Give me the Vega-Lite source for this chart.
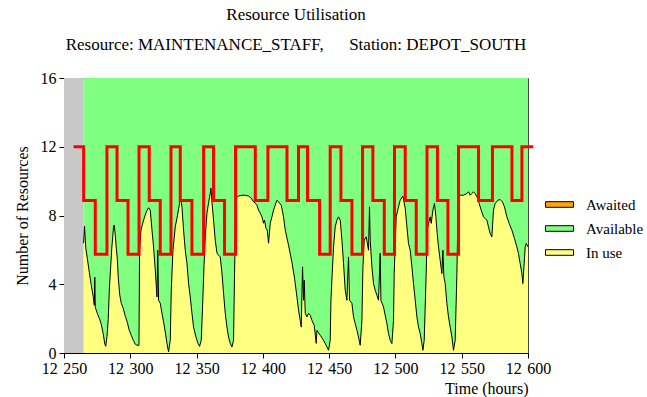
{
  "$schema": "https://vega.github.io/schema/vega-lite/v6.json",
  "autosize": "none",
  "width": 464,
  "height": 275,
  "padding": {"left": 64, "top": 78, "right": 119, "bottom": 44},
  "background": "white",
  "config": {
    "view": {"stroke": "#444", "strokeWidth": 1},
    "font": "Liberation Serif"
  },
  "title": {
    "text": "Resource Utilisation",
    "subtitle": "Resource: MAINTENANCE_STAFF,\u00a0\u00a0\u00a0\u00a0\u00a0\u00a0Station: DEPOT_SOUTH",
    "font": "Liberation Serif", "fontSize": 17, "fontWeight": "normal", "color": "black",
    "subtitleFont": "Liberation Serif", "subtitleFontSize": 17, "subtitleColor": "black",
    "subtitlePadding": 13, "offset": 16, "anchor": "middle"
  },
  "datasets": {
    "bands": [
      {"start": 12250, "end": 12264.8, "kind": "warmup"},
      {"start": 12264.8, "end": 12600, "kind": "Available"}
    ],
    "inuse": [
      {"t": 12264.78, "v": 6.39}, {"t": 12265.46, "v": 7.38}, {"t": 12266.44, "v": 6.10}, {"t": 12267.57, "v": 5.52},
      {"t": 12269.08, "v": 4.70}, {"t": 12270.59, "v": 3.94}, {"t": 12272.10, "v": 3.24}, {"t": 12272.85, "v": 2.78},
      {"t": 12273.23, "v": 4.41}, {"t": 12273.60, "v": 2.66}, {"t": 12275.11, "v": 2.31}, {"t": 12276.62, "v": 2.02},
      {"t": 12278.13, "v": 1.67}, {"t": 12279.64, "v": 1.09}, {"t": 12280.77, "v": 0.51}, {"t": 12281.52, "v": 0.39},
      {"t": 12282.43, "v": 0.97}, {"t": 12283.41, "v": 2.02}, {"t": 12284.16, "v": 3.65}, {"t": 12285.29, "v": 5.11},
      {"t": 12286.05, "v": 6.10}, {"t": 12286.80, "v": 6.80}, {"t": 12287.40, "v": 7.38}, {"t": 12287.93, "v": 7.44},
      {"t": 12288.69, "v": 6.85}, {"t": 12289.44, "v": 6.10}, {"t": 12290.19, "v": 5.52}, {"t": 12290.95, "v": 4.35},
      {"t": 12292.08, "v": 3.36}, {"t": 12293.21, "v": 2.89}, {"t": 12294.72, "v": 2.60}, {"t": 12296.23, "v": 2.14},
      {"t": 12297.74, "v": 1.79}, {"t": 12299.24, "v": 1.32}, {"t": 12300.75, "v": 1.03}, {"t": 12302.26, "v": 0.74},
      {"t": 12303.77, "v": 0.51}, {"t": 12305.05, "v": 0.45},
      {"t": 12306.56, "v": 0.45}, {"t": 12307.01, "v": 5.98}, {"t": 12308.07, "v": 7.15}, {"t": 12310.03, "v": 7.73},
      {"t": 12312.06, "v": 8.21}, {"t": 12313.80, "v": 8.45}, {"t": 12315.08, "v": 8.31}, {"t": 12316.36, "v": 7.15},
      {"t": 12317.57, "v": 6.17}, {"t": 12318.85, "v": 4.82}, {"t": 12320.13, "v": 3.26}, {"t": 12320.73, "v": 5.98},
      {"t": 12321.34, "v": 3.07}, {"t": 12322.62, "v": 2.89}, {"t": 12323.90, "v": 2.31}, {"t": 12325.11, "v": 1.81},
      {"t": 12326.39, "v": 1.22}, {"t": 12327.67, "v": 0.56}, {"t": 12328.88, "v": 0.06}, {"t": 12330.16, "v": 0.74},
      {"t": 12330.92, "v": 3.65}, {"t": 12332.20, "v": 5.98}, {"t": 12333.93, "v": 7.34}, {"t": 12335.67, "v": 8.02},
      {"t": 12337.17, "v": 8.72}, {"t": 12337.70, "v": 9.18}, {"t": 12338.98, "v": 8.50}, {"t": 12340.19, "v": 7.15},
      {"t": 12341.47, "v": 5.98}, {"t": 12342.75, "v": 5.22}, {"t": 12343.96, "v": 4.06}, {"t": 12345.24, "v": 3.26},
      {"t": 12346.52, "v": 2.31}, {"t": 12347.73, "v": 1.51}, {"t": 12349.54, "v": 0.93}, {"t": 12351.05, "v": 0.56},
      {"t": 12352.26, "v": 0.39}, {"t": 12353.54, "v": 0.74},
      {"t": 12354.52, "v": 2.68}, {"t": 12355.57, "v": 5.01}, {"t": 12356.55, "v": 6.76}, {"t": 12357.84, "v": 8.14},
      {"t": 12359.04, "v": 8.72}, {"t": 12360.32, "v": 9.30}, {"t": 12360.85, "v": 9.59}, {"t": 12361.61, "v": 8.79},
      {"t": 12362.81, "v": 7.73}, {"t": 12364.10, "v": 6.56}, {"t": 12365.38, "v": 5.81}, {"t": 12366.58, "v": 5.69},
      {"t": 12367.87, "v": 5.59}, {"t": 12369.15, "v": 4.64}, {"t": 12370.35, "v": 3.48}, {"t": 12371.64, "v": 2.31},
      {"t": 12372.92, "v": 1.51}, {"t": 12374.13, "v": 0.93}, {"t": 12375.41, "v": 0.56}, {"t": 12376.69, "v": 0.35},
      {"t": 12377.90, "v": 0.74},
      {"t": 12378.65, "v": 4.64}, {"t": 12379.71, "v": 9.01}, {"t": 12381.67, "v": 9.13}, {"t": 12384.23, "v": 9.18},
      {"t": 12386.72, "v": 9.18}, {"t": 12389.21, "v": 9.13}, {"t": 12391.24, "v": 9.01}, {"t": 12392.98, "v": 8.79},
      {"t": 12394.26, "v": 8.72}, {"t": 12395.54, "v": 8.60}, {"t": 12396.75, "v": 8.31}, {"t": 12398.03, "v": 8.14},
      {"t": 12399.31, "v": 7.92}, {"t": 12400.52, "v": 7.55}, {"t": 12401.27, "v": 7.73}, {"t": 12402.33, "v": 7.26},
      {"t": 12403.31, "v": 7.15}, {"t": 12404.29, "v": 6.39}, {"t": 12405.57, "v": 7.55}, {"t": 12406.85, "v": 7.92},
      {"t": 12408.06, "v": 8.31}, {"t": 12410.62, "v": 8.89}, {"t": 12411.83, "v": 8.79}, {"t": 12413.87, "v": 8.60},
      {"t": 12415.60, "v": 7.92}, {"t": 12416.88, "v": 7.15}, {"t": 12419.37, "v": 6.27}, {"t": 12421.94, "v": 5.28},
      {"t": 12423.90, "v": 4.35}, {"t": 12425.71, "v": 3.26}, {"t": 12426.91, "v": 2.49}, {"t": 12428.19, "v": 1.90},
      {"t": 12428.95, "v": 1.51}, {"t": 12429.93, "v": 5.01}, {"t": 12430.68, "v": 3.07}, {"t": 12431.21, "v": 4.23},
      {"t": 12431.97, "v": 2.31}, {"t": 12433.25, "v": 2.10}, {"t": 12434.45, "v": 2.31}, {"t": 12435.74, "v": 2.20},
      {"t": 12437.02, "v": 1.90}, {"t": 12438.75, "v": 1.61}, {"t": 12440.26, "v": 0.56}, {"t": 12440.79, "v": 1.32},
      {"t": 12443.28, "v": 1.03}, {"t": 12445.77, "v": 0.74}, {"t": 12448.33, "v": 0.35}, {"t": 12449.54, "v": 0.16},
      {"t": 12450.82, "v": 0.74},
      {"t": 12451.35, "v": 3.07}, {"t": 12452.33, "v": 4.64}, {"t": 12453.31, "v": 6.17}, {"t": 12454.59, "v": 7.34},
      {"t": 12455.87, "v": 7.73}, {"t": 12457.08, "v": 7.92}, {"t": 12458.36, "v": 7.73}, {"t": 12459.64, "v": 6.56},
      {"t": 12460.85, "v": 5.22}, {"t": 12462.13, "v": 3.65}, {"t": 12463.41, "v": 3.07}, {"t": 12464.62, "v": 5.59},
      {"t": 12465.37, "v": 3.07}, {"t": 12467.18, "v": 2.89}, {"t": 12468.39, "v": 2.10}, {"t": 12469.67, "v": 1.71},
      {"t": 12470.95, "v": 1.32}, {"t": 12472.16, "v": 0.93}, {"t": 12473.44, "v": 0.45}, {"t": 12474.72, "v": 1.90},
      {"t": 12475.48, "v": 5.01}, {"t": 12476.46, "v": 6.56}, {"t": 12477.96, "v": 6.76}, {"t": 12479.70, "v": 5.98},
      {"t": 12480.45, "v": 8.50}, {"t": 12480.98, "v": 6.56}, {"t": 12482.26, "v": 5.01}, {"t": 12483.47, "v": 4.04},
      {"t": 12484.75, "v": 3.65}, {"t": 12486.03, "v": 3.36}, {"t": 12487.24, "v": 3.07}, {"t": 12488.52, "v": 5.81},
      {"t": 12489.05, "v": 3.07}, {"t": 12491.01, "v": 2.68}, {"t": 12493.57, "v": 1.71}, {"t": 12494.78, "v": 1.13},
      {"t": 12496.06, "v": 0.74}, {"t": 12497.34, "v": 0.55}, {"t": 12498.55, "v": 1.90},
      {"t": 12499.08, "v": 4.62}, {"t": 12500.59, "v": 7.92}, {"t": 12502.32, "v": 8.50}, {"t": 12503.61, "v": 8.89},
      {"t": 12505.64, "v": 9.13}, {"t": 12507.37, "v": 8.43}, {"t": 12508.66, "v": 7.34}, {"t": 12509.86, "v": 6.37},
      {"t": 12511.14, "v": 5.98}, {"t": 12512.43, "v": 5.01}, {"t": 12513.63, "v": 4.04}, {"t": 12514.92, "v": 3.07},
      {"t": 12516.20, "v": 2.10}, {"t": 12517.41, "v": 1.51}, {"t": 12518.69, "v": 1.13}, {"t": 12519.97, "v": 0.55},
      {"t": 12520.73, "v": 0.16}, {"t": 12521.71, "v": 0.74},
      {"t": 12523.20, "v": 4.62}, {"t": 12523.97, "v": 7.15}, {"t": 12524.95, "v": 7.54}, {"t": 12526.23, "v": 7.92},
      {"t": 12526.98, "v": 7.54}, {"t": 12528.26, "v": 8.31}, {"t": 12529.47, "v": 8.70}, {"t": 12530.53, "v": 7.92},
      {"t": 12531.51, "v": 6.95}, {"t": 12532.49, "v": 6.17}, {"t": 12533.77, "v": 5.40}, {"t": 12535.05, "v": 4.62},
      {"t": 12535.81, "v": 5.98}, {"t": 12536.56, "v": 4.43}, {"t": 12537.54, "v": 4.04}, {"t": 12538.82, "v": 2.88},
      {"t": 12540.03, "v": 2.10}, {"t": 12541.31, "v": 1.51}, {"t": 12542.59, "v": 0.93}, {"t": 12543.80, "v": 0.16},
      {"t": 12545.08, "v": 0.74},
      {"t": 12546.35, "v": 4.62}, {"t": 12547.11, "v": 7.92}, {"t": 12548.32, "v": 9.18}, {"t": 12551.34, "v": 9.18},
      {"t": 12553.90, "v": 9.28}, {"t": 12555.11, "v": 9.38}, {"t": 12556.39, "v": 9.18}, {"t": 12557.67, "v": 9.28},
      {"t": 12558.88, "v": 9.38}, {"t": 12560.16, "v": 9.28}, {"t": 12561.44, "v": 9.09}, {"t": 12563.18, "v": 8.70},
      {"t": 12564.69, "v": 8.31}, {"t": 12566.42, "v": 7.92}, {"t": 12567.70, "v": 7.83}, {"t": 12568.98, "v": 7.73},
      {"t": 12570.19, "v": 7.34}, {"t": 12571.47, "v": 6.95}, {"t": 12572.75, "v": 6.76}, {"t": 12573.96, "v": 8.31},
      {"t": 12575.24, "v": 8.70}, {"t": 12577.28, "v": 8.89}, {"t": 12579.02, "v": 8.93}, {"t": 12580.75, "v": 8.79},
      {"t": 12582.26, "v": 8.50}, {"t": 12584.07, "v": 7.92}, {"t": 12585.80, "v": 7.54}, {"t": 12587.84, "v": 7.15},
      {"t": 12589.80, "v": 6.66}, {"t": 12591.61, "v": 6.17}, {"t": 12592.81, "v": 5.79}, {"t": 12594.10, "v": 5.21},
      {"t": 12595.38, "v": 4.62}, {"t": 12596.13, "v": 4.04}, {"t": 12597.11, "v": 5.21}, {"t": 12597.87, "v": 6.17},
      {"t": 12598.62, "v": 6.37}, {"t": 12600.00, "v": 6.17}
    ],
    "capacity": [
      {"t": 12257.2, "c": 12}, {"t": 12264.8, "c": 8.875}, {"t": 12273.6, "c": 5.75}, {"t": 12282.4, "c": 12},
      {"t": 12290.0, "c": 8.875}, {"t": 12298.3, "c": 5.75}, {"t": 12306.6, "c": 12}, {"t": 12314.3, "c": 8.875},
      {"t": 12322.6, "c": 5.75}, {"t": 12330.7, "c": 12}, {"t": 12337.7, "c": 8.875}, {"t": 12346.5, "c": 5.75},
      {"t": 12355.3, "c": 12}, {"t": 12362.8, "c": 8.875}, {"t": 12371.1, "c": 5.75}, {"t": 12379.4, "c": 12},
      {"t": 12394.3, "c": 8.875}, {"t": 12403.8, "c": 12}, {"t": 12418.2, "c": 8.875}, {"t": 12426.9, "c": 12},
      {"t": 12433.7, "c": 8.875}, {"t": 12442.8, "c": 5.75}, {"t": 12450.8, "c": 12}, {"t": 12458.9, "c": 8.875},
      {"t": 12467.2, "c": 5.75}, {"t": 12475.2, "c": 12}, {"t": 12483.0, "c": 8.875}, {"t": 12491.6, "c": 5.75},
      {"t": 12499.3, "c": 12}, {"t": 12507.4, "c": 8.875}, {"t": 12515.7, "c": 5.75}, {"t": 12523.8, "c": 12},
      {"t": 12531.7, "c": 8.875}, {"t": 12539.6, "c": 5.75}, {"t": 12547.6, "c": 12}, {"t": 12562.7, "c": 8.875},
      {"t": 12573.2, "c": 12}, {"t": 12587.9, "c": 8.875}, {"t": 12595.4, "c": 12}, {"t": 12604.0, "c": 12}
    ]
  },
  "layer": [
    {
      "data": {"name": "bands"},
      "transform": [{"filter": "datum.kind === 'warmup'"}],
      "mark": {"type": "rect", "fill": "#C8C8C8"},
      "encoding": {
        "x": {"field": "start", "type": "quantitative", "scale": {"domain": [12250, 12600], "nice": false, "zero": false},
          "axis": {
            "values": [12250, 12300, 12350, 12400, 12450, 12500, 12550, 12600],
            "labelExpr": "replace(format(datum.value, ','), ',', '\u00a0\u200a')",
            "title": "Time (hours)", "titleAnchor": "end", "titleY": 27, "titleBaseline": "top",
            "titleFont": "Liberation Serif", "titleFontSize": 16, "titleFontWeight": "normal", "titleColor": "black",
            "labelFont": "Liberation Serif", "labelFontSize": 16, "labelColor": "black", "labelFlush": false, "labelOverlap": false,
            "labelPadding": 2, "tickSize": 5, "tickColor": "black", "domainColor": "black", "grid": false
          }},
        "x2": {"field": "end"},
        "y": {"datum": 0, "type": "quantitative", "scale": {"domain": [0, 16], "nice": false},
          "axis": {
            "values": [0, 4, 8, 12, 16], "title": "Number of Resources", "titlePadding": 10,
            "titleFont": "Liberation Serif", "titleFontSize": 16, "titleFontWeight": "normal", "titleColor": "black",
            "labelFont": "Liberation Serif", "labelFontSize": 16, "labelColor": "black", "labelFlush": false,
            "labelPadding": 3, "tickSize": 5, "tickColor": "black", "domainColor": "black", "grid": false
          }},
        "y2": {"datum": 16}
      }
    },
    {
      "data": {"name": "bands"},
      "transform": [{"filter": "datum.kind === 'Available'"}],
      "mark": {"type": "rect"},
      "encoding": {
        "x": {"field": "start", "type": "quantitative"},
        "x2": {"field": "end"},
        "y": {"datum": 0, "type": "quantitative"},
        "y2": {"datum": 16},
        "fill": {"field": "kind", "type": "nominal",
          "scale": {"domain": ["Awaited", "Available", "In use"], "range": ["#FFA500", "#80FF80", "#FFFF80"]},
          "legend": {
            "orient": "none", "legendX": 488, "legendY": 119, "title": null,
            "symbolType": "M-3.5,-0.7L3.5,-0.7L3.5,0.7L-3.5,0.7Z", "symbolSize": 64,
            "symbolStrokeColor": "black", "symbolStrokeWidth": 1, "symbolOpacity": 1,
            "labelFont": "Liberation Serif", "labelFontSize": 15, "labelColor": "black",
            "labelOffset": 19, "rowPadding": 8,
            "encode": {"symbols": {"update": {"stroke": {"value": "black"}, "strokeWidth": {"value": 1}}}}
          }}
      }
    },
    {
      "data": {"name": "inuse"},
      "mark": {"type": "area", "interpolate": "linear", "fill": "#FFFF80", "opacity": 1},
      "encoding": {
        "x": {"field": "t", "type": "quantitative"},
        "y": {"field": "v", "type": "quantitative"},
        "y2": {"datum": 0}
      }
    },
    {
      "data": {"name": "inuse"},
      "mark": {"type": "line", "interpolate": "linear", "stroke": "black", "strokeWidth": 1},
      "encoding": {
        "x": {"field": "t", "type": "quantitative"},
        "y": {"field": "v", "type": "quantitative"}
      }
    },
    {
      "data": {"name": "capacity"},
      "mark": {"type": "line", "interpolate": "step-after", "stroke": "#FF0000", "strokeWidth": 3},
      "encoding": {
        "x": {"field": "t", "type": "quantitative"},
        "y": {"field": "c", "type": "quantitative"}
      }
    }
  ]
}
